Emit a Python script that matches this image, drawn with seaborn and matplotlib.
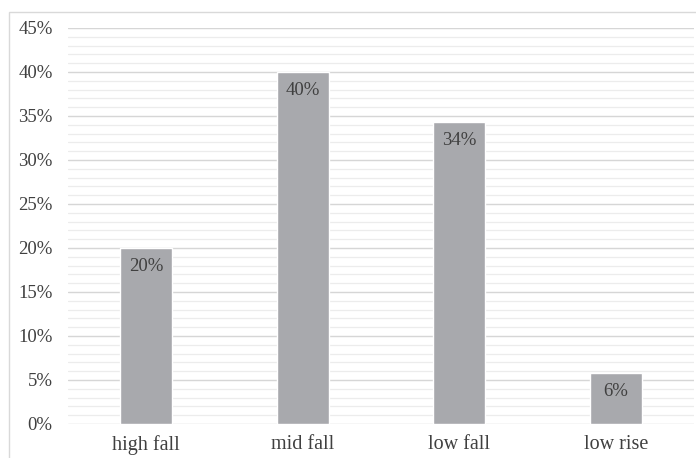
import matplotlib
matplotlib.use("Agg")
import matplotlib.pyplot as plt
import seaborn as sns
import pandas as pd
from matplotlib.ticker import MultipleLocator, FuncFormatter
from matplotlib.patches import Rectangle

categories = ["high fall", "mid fall", "low fall", "low rise"]
values = [20.0, 40.0, 34.3, 5.8]
labels = ["20%", "40%", "34%", "6%"]

sns.set_theme(style="white")
plt.rcParams["font.family"] = ["Liberation Serif", "DejaVu Serif"]

W, H = 696, 458
fig = plt.figure(figsize=(W / 100, H / 100), dpi=100)
fig.patch.set_facecolor("white")

# outer light frame
fig.patches.append(Rectangle((9 / W, -0.1), 1.2, (H - 12) / H + 0.1,
                             transform=fig.transFigure, fill=False,
                             edgecolor="#d9d9d9", linewidth=1.0))

left, right = 68 / W, 694 / W
bottom, top = (H - 424) / H, (H - 28) / H
ax = fig.add_axes([left, bottom, right - left, top - bottom])

df = pd.DataFrame({"cat": categories, "val": values})
sns.barplot(data=df, x="cat", y="val", color="#a8a9ad", saturation=1,
            width=0.33, ax=ax, zorder=3)

ax.set_ylim(0, 45)
ax.set_xlim(-0.5, 3.5)
ax.yaxis.set_major_locator(MultipleLocator(5))
ax.yaxis.set_minor_locator(MultipleLocator(1))
ax.yaxis.set_major_formatter(FuncFormatter(lambda v, p: f"{v:.0f}%"))
ax.grid(which="major", axis="y", color="#d6d6d6", linewidth=1.0, zorder=0)
ax.grid(which="minor", axis="y", color="#ececec", linewidth=0.9, zorder=0)
ax.set_axisbelow(True)
for s in ax.spines.values():
    s.set_visible(False)
ax.set_xlabel("")
ax.set_ylabel("")
ax.tick_params(axis="y", which="both", length=0, pad=11, labelsize=13.5,
               labelcolor="#404040")
ax.tick_params(axis="x", length=0, pad=8, labelsize=14.5, labelcolor="#404040")

for i, (v, lab) in enumerate(zip(values, labels)):
    ax.annotate(lab, (i, v), xytext=(0, -7), textcoords="offset points",
                ha="center", va="top", fontsize=13.5, color="#404040", zorder=4)

fig.savefig("out.png", dpi=100)
